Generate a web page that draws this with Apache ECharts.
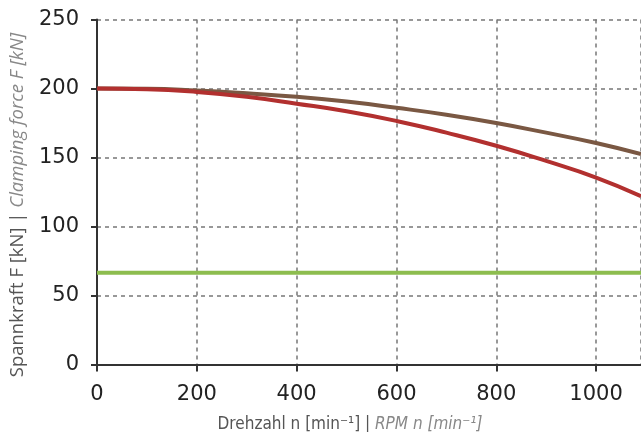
<!DOCTYPE html>
<html>
<head>
<meta charset="utf-8">
<script src="https://cdn.jsdelivr.net/npm/echarts@6/dist/echarts.min.js"></script>
<style>
  html, body { margin: 0; padding: 0; background: #fff; }
  #chart { width: 641px; height: 432px; }
</style>
</head>
<body>
<div id="chart"></div>
<script>
// Drehzahl n [min-1]
var rpm = [0, 100, 200, 300, 400, 500, 600, 700, 800, 900, 1000, 1090];
// Spannkraft [kN], Kurve braun
var forceBrown = [200, 199.8, 198.5, 196.5, 194, 190.5, 186, 181, 175, 168, 160.5, 152.5];
// Spannkraft [kN], Kurve rot
var forceRed = [200, 199.5, 197.5, 194, 189, 183.5, 176.5, 168, 158.5, 147.5, 135.5, 122];
// konstante Linie (gruen)
var greenRpm = [0, 1090];
var greenForce = [66.5, 66.5];

var yTicks = [0, 50, 100, 150, 200, 250];
var xTicks = [0, 200, 400, 600, 800, 1000];

function pairs(xs, ys) {
    return xs.map(function (x, i) { return [x, ys[i]]; });
}

var myChart = echarts.init(document.getElementById('chart'));

var option = {
    animation: false,
    grid: { left: 97, right: 0, top: 19.5, bottom: 67.5, outerBoundsMode: 'none', containLabel: false },
    xAxis: {
        type: 'value',
        min: 0,
        max: 1090,
        interval: 200,
        name: '{a|Drehzahl n [min⁻¹] | }{b|RPM n [min⁻¹]}',
        nameLocation: 'middle',
        nameGap: 52,
        nameTextStyle: {
            padding: [0, 38, 0, 0],
            rich: {
                a: { fontFamily: 'DejaVu Sans Condensed', fontSize: 17, color: '#555' },
                b: { fontFamily: 'DejaVu Sans Condensed', fontSize: 17, color: '#888', fontStyle: 'italic' }
            }
        },
        axisLine: { lineStyle: { color: '#333', width: 2 } },
        axisTick: { inside: false, length: 7, lineStyle: { color: '#333', width: 2 } },
        axisLabel: {
            margin: 20,
            fontFamily: 'DejaVu Sans',
            fontSize: 21,
            color: '#222',
            showMaxLabel: false,
            formatter: function (v) { return xTicks.indexOf(v) >= 0 ? String(v) : ''; }
        },
        splitLine: { show: true, lineStyle: { color: '#777', width: 1.5, type: [4, 4] } }
    },
    yAxis: {
        type: 'value',
        min: 0,
        max: 250,
        interval: 50,
        name: '{a|Spannkraft F [kN] | }{b|Clamping force F [kN]}',
        nameLocation: 'middle',
        nameGap: 70,
        nameTextStyle: {
            padding: [0, 26, 0, 0],
            rich: {
                a: { fontFamily: 'Open Sans', fontSize: 18.5, color: '#555' },
                b: { fontFamily: 'Open Sans', fontSize: 18.5, color: '#888', fontStyle: 'italic' }
            }
        },
        axisLine: { show: true, lineStyle: { color: '#333', width: 2 } },
        axisTick: { show: true, length: 6, lineStyle: { color: '#333', width: 2 } },
        axisLabel: {
            margin: 18,
            fontFamily: 'DejaVu Sans',
            fontSize: 21,
            color: '#222',
            formatter: function (v) { return yTicks.indexOf(v) >= 0 ? String(v) : ''; }
        },
        splitLine: { show: true, lineStyle: { color: '#777', width: 1.5, type: [4, 4] } }
    },
    series: [
        {
            type: 'line',
            data: pairs(greenRpm, greenForce),
            symbol: 'none',
            lineStyle: { color: '#8dbd4f', width: 4 }
        },
        {
            type: 'line',
            data: pairs(rpm, forceBrown),
            symbol: 'none',
            smooth: true,
            lineStyle: { color: '#7a5843', width: 4 }
        },
        {
            type: 'line',
            data: pairs(rpm, forceRed),
            symbol: 'none',
            smooth: true,
            lineStyle: { color: '#b2302f', width: 4 }
        }
    ]
};

myChart.setOption(option);
</script>
</body>
</html>
